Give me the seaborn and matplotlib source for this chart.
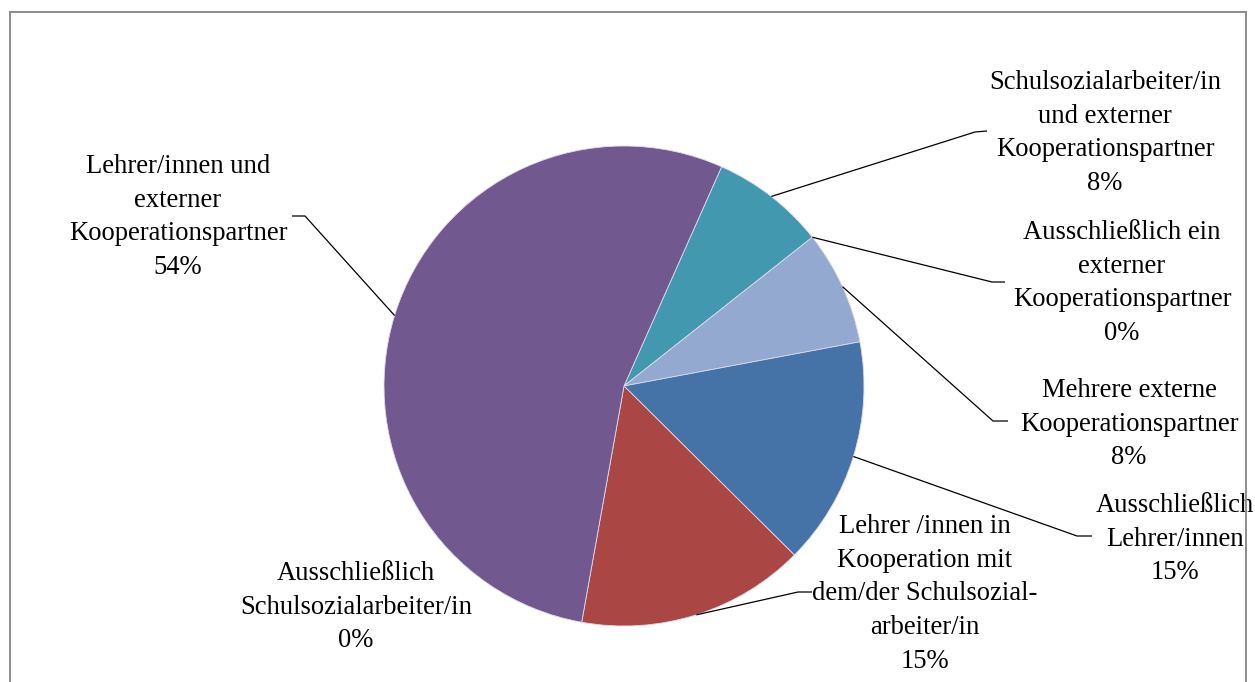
import matplotlib
matplotlib.use("Agg")
import matplotlib.pyplot as plt
from matplotlib.patches import Rectangle
import numpy as np
import seaborn as sns

# ---- data -------------------------------------------------------------
categories = [
    "Schulsozialarbeiter/in und externer Kooperationspartner",
    "Ausschließlich ein externer Kooperationspartner",
    "Mehrere externe Kooperationspartner",
    "Ausschließlich Lehrer/innen",
    "Lehrer/innen in Kooperation mit dem/der Schulsozialarbeiter/in",
    "Ausschließlich Schulsozialarbeiter/in",
    "Lehrer/innen und externer Kooperationspartner",
]
counts = [1, 0, 1, 2, 2, 0, 7]
label_lines = [
    ["Schulsozialarbeiter/in", "und externer", "Kooperationspartner"],
    ["Ausschließlich ein", "externer", "Kooperationspartner"],
    ["Mehrere externe", "Kooperationspartner"],
    ["Ausschließlich", "Lehrer/innen"],
    ["Lehrer /innen in", "Kooperation mit", "dem/der Schulsozial-", "arbeiter/in"],
    ["Ausschließlich", "Schulsozialarbeiter/in"],
    ["Lehrer/innen und", "externer", "Kooperationspartner"],
]
slice_colors = ["#4198AF", "#F79646", "#93A9CF", "#4572A7", "#AA4643", "#9BBB59", "#71588F"]

# ---- layout (pixel coordinates, origin top-left) ---------------------
W, H = 1255, 682
pie_center = (624, 386)
pie_radius = 240
start_angle = 66
# label block: centre x, baseline of first line
label_anchor = [
    (1105, 89),
    (1122, 239),
    (1129, 397),
    (1175, 512),
    (925, 533),
    (356, 580),
    (178, 173),
]
line_step = 33.7
# leader line bend and end points, per label (None = no leader)
leader_points = [
    [(975, 132), (987, 131)],
    [(992, 282), (1005, 282)],
    [(993, 421), (1008, 421)],
    [(1077, 536), (1092, 536)],
    [(798, 592), (812, 592)],
    None,
    [(305, 216), (292, 216)],
]

sns.set_theme(style="white")
plt.rcParams["font.family"] = ["Liberation Serif", "DejaVu Serif"]

fig = plt.figure(figsize=(W / 100, H / 100), dpi=100)
fig.patch.set_facecolor("white")
ax = fig.add_axes([0, 0, 1, 1])


def fy(y):
    return H - y


wedges, _ = ax.pie(
    counts,
    colors=slice_colors,
    startangle=start_angle,
    counterclock=False,
    center=(pie_center[0], fy(pie_center[1])),
    radius=pie_radius,
    wedgeprops=dict(edgecolor="#dcdcec", linewidth=0.6),
)
for w, c in zip(wedges, counts):
    if c == 0:
        w.set_linewidth(0)

ax.set_xlim(0, W)
ax.set_ylim(0, H)
ax.set_aspect("equal")
ax.axis("off")

total = sum(counts)
for i, (w, lines) in enumerate(zip(wedges, label_lines)):
    pct = f"{round(100 * counts[i] / total)}%"
    cx, by = label_anchor[i]
    for k, t in enumerate(lines + [pct]):
        ax.text(cx, fy(by + k * line_step), t, ha="center", va="baseline",
                fontsize=19.2, color="black")
    if leader_points[i] is None:
        continue
    mid = np.deg2rad((w.theta1 + w.theta2) / 2)
    sx = pie_center[0] + pie_radius * np.cos(mid)
    sy = pie_center[1] - pie_radius * np.sin(mid)
    xs = [sx] + [p[0] for p in leader_points[i]]
    ys = [fy(sy)] + [fy(p[1]) for p in leader_points[i]]
    ax.plot(xs, ys, color="black", linewidth=0.9, solid_capstyle="butt")

# chart frame
fig.add_artist(Rectangle((10 / W, -0.05), (1246 - 10) / W, (H - 12) / H + 0.05,
                         transform=fig.transFigure, fill=False,
                         edgecolor="#8c8c8c", linewidth=1.4))

fig.savefig("out.png", dpi=100)
